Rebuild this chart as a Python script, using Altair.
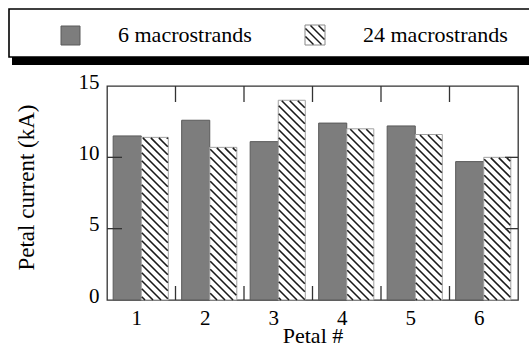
import altair as alt
import pandas as pd

# ---- data ----
petals = [1, 2, 3, 4, 5, 6]
current_6 = [11.5, 12.6, 11.1, 12.4, 12.2, 9.7]
current_24 = [11.4, 10.7, 14.0, 12.0, 11.6, 10.0]
series_names = ["6 macrostrands", "24 macrostrands"]
y_tick_values = [0, 5, 10, 15]
x_boundaries = [1.5, 2.5, 3.5, 4.5, 5.5]
inner_y_ticks = [5, 10]

# ---- style / layout constants ----
W, H = 411, 214
X_MIN, X_MAX = 0.5, 6.5
Y_MAX = 15
FONT = "Liberation Serif"
GRAY = "#7d7d7d"
INK = "#1a1a1a"
PX_X = W / (X_MAX - X_MIN)
PX_Y = H / Y_MAX
HATCH_STEP = 8

bars = pd.DataFrame({
    "petal": petals * 2,
    "value": current_6 + current_24,
    "series": [series_names[0]] * len(petals) + [series_names[1]] * len(petals),
})
bars["x0"] = [p - 0.41 if s == series_names[0] else p for p, s in zip(bars.petal, bars.series)]
bars["x1"] = [p if s == series_names[0] else p + 0.395 for p, s in zip(bars.petal, bars.series)]


def hatch_segments(x0p, x1p, ytop, ybot):
    segs = []
    for c in range(-1000, 1000, HATCH_STEP):
        xs = max(x0p, ytop - c)
        xe = min(x1p, ybot - c)
        if xe - xs > 0.6:
            segs.append((xs, xs + c, xe, xe + c))
    return segs


# hatch lines for the 24-macrostrand bars, in data units
rows = []
for p, v in zip(petals, current_24):
    x0p = (p - X_MIN) * PX_X
    x1p = (p + 0.395 - X_MIN) * PX_X
    ytop = H - v * PX_Y
    for xs, ys, xe, ye in hatch_segments(x0p + 0.5, x1p - 0.5, ytop + 0.5, H):
        rows.append({
            "hx": xs / PX_X + X_MIN, "hy": (H - ys) / PX_Y,
            "hx2": xe / PX_X + X_MIN, "hy2": (H - ye) / PX_Y,
        })
hatch = pd.DataFrame(rows)

# legend hatch square (pixel space)
LEG_SQ = (198, 218, -61, -41)
leg_hatch = pd.DataFrame([
    {"lx": a, "ly": b, "lx2": c, "ly2": d}
    for a, b, c, d in hatch_segments(LEG_SQ[0] + 0.5, LEG_SQ[1] - 0.5, LEG_SQ[2] + 0.5, LEG_SQ[3] - 0.5)
])

xscale = alt.Scale(domain=[X_MIN, X_MAX], nice=False, zero=False)
yscale = alt.Scale(domain=[0, Y_MAX], nice=False)

x_axis = alt.Axis(
    values=petals, format="d", ticks=False, domain=False, grid=False,
    labelFont=FONT, labelFontSize=21, labelColor="black", labelPadding=7,
    labelOffset=-5, labelBaseline="top",
    title="Petal #", titleFont=FONT, titleFontSize=22, titleFontWeight="normal",
    titleColor="black", titleY=42.5, titleBaseline="alphabetic")
y_axis = alt.Axis(
    values=y_tick_values, ticks=False, domain=False, grid=False,
    labelFont=FONT, labelFontSize=21, labelColor="black", labelPadding=8,
    labelOffset=-4,
    title="Petal current (kA)", titleFont=FONT, titleFontSize=23,
    titleFontWeight="normal", titleColor="black", titleX=-81, titleY=101,
    titleAngle=270, titleBaseline="middle", titleAlign="center")

bar_layer = alt.Chart(bars).mark_rect(strokeWidth=1).encode(
    x=alt.X("x0:Q", scale=xscale, axis=x_axis),
    x2="x1:Q",
    y=alt.Y("value:Q", scale=yscale, axis=y_axis),
    y2=alt.datum(0),
    fill=alt.Fill("series:N", scale=alt.Scale(domain=series_names, range=[GRAY, "white"]), legend=None),
    stroke=alt.Stroke("series:N", scale=alt.Scale(domain=series_names, range=["#5a5a5a", "#a0a0a0"]), legend=None),
)

hatch_layer = alt.Chart(hatch).mark_rule(color=INK, strokeWidth=1.6).encode(
    x=alt.X("hx:Q", scale=xscale, axis=x_axis),
    y=alt.Y("hy:Q", scale=yscale, axis=y_axis),
    x2="hx2:Q", y2="hy2:Q",
)

tick_style = dict(color="#333333", strokeWidth=1.3)
xb = pd.DataFrame({"b": x_boundaries})
yt = pd.DataFrame({"t": inner_y_ticks})
ticks = [
    alt.Chart(xb).mark_rule(**tick_style).encode(
        x=alt.X("b:Q", scale=xscale, axis=x_axis), y=alt.value(H), y2=alt.value(H - 14)),
    alt.Chart(xb).mark_rule(**tick_style).encode(
        x=alt.X("b:Q", scale=xscale, axis=x_axis), y=alt.value(0), y2=alt.value(16)),
    alt.Chart(yt).mark_rule(**tick_style).encode(
        y=alt.Y("t:Q", scale=yscale, axis=y_axis), x=alt.value(0), x2=alt.value(15)),
    alt.Chart(yt).mark_rule(**tick_style).encode(
        y=alt.Y("t:Q", scale=yscale, axis=y_axis), x=alt.value(W - 13), x2=alt.value(W)),
]

one = pd.DataFrame({"k": [0]})
legend_layers = [
    alt.Chart(one).mark_rect(color="black").encode(
        x=alt.value(-95), x2=alt.value(600), y=alt.value(-72), y2=alt.value(-21)),
    alt.Chart(one).mark_rect(fill="white", stroke="black", strokeWidth=1.6).encode(
        x=alt.value(-98), x2=alt.value(600), y=alt.value(-77), y2=alt.value(-29)),
    alt.Chart(one).mark_rect(fill=GRAY, stroke="#5a5a5a", strokeWidth=1).encode(
        x=alt.value(-46), x2=alt.value(-27), y=alt.value(-60), y2=alt.value(-41)),
    alt.Chart(one).mark_rect(fill="white", stroke="#888888", strokeWidth=1).encode(
        x=alt.value(LEG_SQ[0]), x2=alt.value(LEG_SQ[1]), y=alt.value(LEG_SQ[2]), y2=alt.value(LEG_SQ[3])),
    alt.Chart(leg_hatch).mark_rule(color=INK, strokeWidth=1.5).encode(
        x=alt.X("lx:Q", scale=None), y=alt.Y("ly:Q", scale=None),
        x2="lx2:Q", y2="ly2:Q"),
    alt.Chart(one).mark_text(font=FONT, fontSize=22, align="left", baseline="middle", color="black").encode(
        x=alt.value(11), y=alt.value(-51), text=alt.value(series_names[0])),
    alt.Chart(one).mark_text(font=FONT, fontSize=22, align="left", baseline="middle", color="black").encode(
        x=alt.value(256), y=alt.value(-51), text=alt.value(series_names[1])),
]

chart = alt.layer(bar_layer, hatch_layer, *ticks, *legend_layers).properties(
    width=W, height=H,
    autosize=alt.AutoSizeParams(type="none"),
    padding={"left": 107, "top": 86, "right": 11, "bottom": 47},
    background="white",
).configure_view(stroke="#333333", strokeWidth=1.3)

chart.save("out.html", embed_options={"renderer": "svg", "actions": False})
